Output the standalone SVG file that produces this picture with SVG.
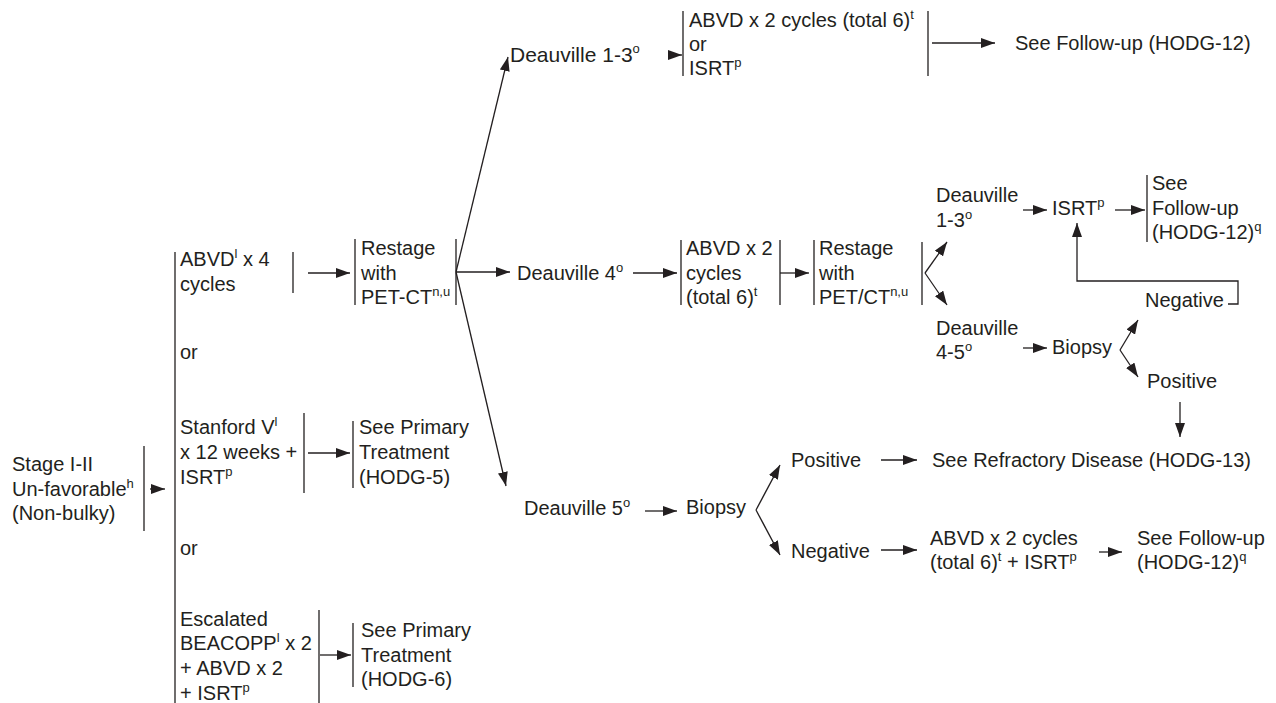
<svg xmlns="http://www.w3.org/2000/svg" width="1276" height="703" viewBox="0 0 1276 703">
<defs>
<style>
text{font-family:"Liberation Sans",Arial,sans-serif;font-size:20px;fill:#231f20}
.b{font-size:21px}
.s{font-size:13px}
.l{stroke:#231f20;stroke-width:1.3;fill:none}
.a{stroke:#231f20;stroke-width:1.3;fill:none;marker-end:url(#ah)}
</style>
<marker id="ah" markerUnits="userSpaceOnUse" markerWidth="15" markerHeight="10" refX="14" refY="5" orient="auto">
<path d="M0,0 L14,5 L0,10 z" fill="#231f20"/>
</marker>
</defs>
<rect width="1276" height="703" fill="#fff"/>

<g id="stage">
<text x="12" y="471">Stage I-II</text>
<text x="12" y="496">Un-favorable<tspan class="s" dy="-8">h</tspan></text>
<text x="12" y="520">(Non-bulky)</text>
<line class="l" x1="144" y1="446" x2="144" y2="531"/>
</g>

<g id="options">
<line class="l" x1="175" y1="252" x2="175" y2="703"/>
<text x="180" y="359">or</text>
<text x="180" y="555">or</text>
</g>

<g id="abvd4">
<text x="180" y="266">ABVD<tspan class="s" dy="-8">l</tspan><tspan dy="8"> x 4</tspan></text>
<text x="180" y="291">cycles</text>
<line class="l" x1="293" y1="252" x2="293" y2="293"/>
</g>

<g id="restage1">
<line class="l" x1="355" y1="239" x2="355" y2="305"/>
<text x="361" y="255">Restage</text>
<text x="361" y="280">with</text>
<text x="361" y="304">PET-CT<tspan class="s" dy="-8">n,u</tspan></text>
<line class="l" x1="456" y1="239" x2="456" y2="305"/>
</g>

<g id="stanford">
<text x="180" y="434">Stanford V<tspan class="s" dy="-8">l</tspan></text>
<text x="180" y="459">x 12 weeks +</text>
<text x="180" y="484">ISRT<tspan class="s" dy="-8">p</tspan></text>
<line class="l" x1="304" y1="413" x2="304" y2="493"/>
</g>

<g id="primary5">
<line class="l" x1="353" y1="421" x2="353" y2="488"/>
<text x="359" y="434">See Primary</text>
<text x="359" y="459">Treatment</text>
<text x="359" y="484">(HODG-5)</text>
</g>

<g id="beacopp">
<text x="180" y="626">Escalated</text>
<text x="180" y="650">BEACOPP<tspan class="s" dy="-8">l</tspan><tspan dy="8"> x 2</tspan></text>
<text x="180" y="675">+ ABVD x 2</text>
<text x="180" y="700">+ ISRT<tspan class="s" dy="-8">p</tspan></text>
<line class="l" x1="319" y1="610" x2="319" y2="703"/>
</g>

<g id="primary6">
<line class="l" x1="353" y1="623" x2="353" y2="687"/>
<text x="361" y="637">See Primary</text>
<text x="361" y="662">Treatment</text>
<text x="361" y="686">(HODG-6)</text>
</g>

<g id="d13top">
<text class="b" x="510" y="62">Deauville 1-3<tspan class="s" dy="-9">o</tspan></text>
</g>

<g id="abvd2top">
<line class="l" x1="683" y1="11" x2="683" y2="76"/>
<text x="689" y="27">ABVD x 2 cycles (total 6)<tspan class="s" dy="-8">t</tspan></text>
<text x="689" y="51">or</text>
<text x="689" y="75">ISRT<tspan class="s" dy="-8">p</tspan></text>
<line class="l" x1="928" y1="11" x2="928" y2="76"/>
</g>

<g id="fu12top">
<text x="1015" y="50">See Follow-up (HODG-12)</text>
</g>

<g id="d4">
<text x="517" y="280">Deauville 4<tspan class="s" dy="-8">o</tspan></text>
</g>

<g id="abvd2mid">
<line class="l" x1="681" y1="240" x2="681" y2="305"/>
<text x="686" y="255">ABVD x 2</text>
<text x="686" y="280">cycles</text>
<text x="686" y="304">(total 6)<tspan class="s" dy="-8">t</tspan></text>
<line class="l" x1="780" y1="240" x2="780" y2="305"/>
</g>

<g id="restage2">
<line class="l" x1="814" y1="240" x2="814" y2="305"/>
<text x="819" y="255">Restage</text>
<text x="819" y="280">with</text>
<text x="819" y="304">PET/CT<tspan class="s" dy="-8">n,u</tspan></text>
<line class="l" x1="922" y1="242" x2="922" y2="305"/>
</g>

<g id="d13right">
<text x="936" y="202">Deauville</text>
<text x="936" y="227">1-3<tspan class="s" dy="-8">o</tspan></text>
</g>

<g id="isrt">
<text x="1052" y="215">ISRT<tspan class="s" dy="-8">p</tspan></text>
</g>

<g id="fu12right">
<line class="l" x1="1147" y1="175" x2="1147" y2="242"/>
<text x="1152" y="190">See</text>
<text x="1152" y="215">Follow-up</text>
<text x="1152" y="239">(HODG-12)<tspan class="s" dy="-8">q</tspan></text>
</g>

<g id="neg1">
<text x="1145" y="307">Negative</text>
</g>

<g id="d45">
<text x="936" y="335">Deauville</text>
<text x="936" y="359">4-5<tspan class="s" dy="-8">o</tspan></text>
</g>

<g id="biopsy1">
<text x="1052" y="354">Biopsy</text>
</g>

<g id="pos1">
<text x="1147" y="388">Positive</text>
</g>

<g id="d5">
<text x="524" y="515">Deauville 5<tspan class="s" dy="-8">o</tspan></text>
</g>

<g id="biopsy2">
<text x="686" y="514">Biopsy</text>
</g>

<g id="pos2">
<text x="791" y="467">Positive</text>
</g>

<g id="refractory">
<text x="932" y="467">See Refractory Disease (HODG-13)</text>
</g>

<g id="neg2">
<text x="791" y="558">Negative</text>
</g>

<g id="abvd2bot">
<text x="930" y="545">ABVD x 2 cycles</text>
<text x="930" y="569">(total 6)<tspan class="s" dy="-8">t</tspan><tspan dy="8"> + ISRT</tspan><tspan class="s" dy="-8">p</tspan></text>
</g>

<g id="fu12bot">
<text x="1137" y="545">See Follow-up</text>
<text x="1137" y="569">(HODG-12)<tspan class="s" dy="-8">q</tspan></text>
</g>

<g id="connectors">
<line class="a" x1="150" y1="489" x2="165" y2="489"/>
<line class="a" x1="308" y1="273" x2="350" y2="273"/>
<line class="a" x1="308" y1="453" x2="350" y2="453"/>
<line class="a" x1="320" y1="655" x2="351" y2="655"/>
<line class="a" x1="456" y1="272" x2="508" y2="57"/>
<line class="a" x1="456" y1="272" x2="510" y2="272"/>
<line class="a" x1="456" y1="272" x2="506" y2="486"/>
<line class="a" x1="668" y1="55" x2="682" y2="55"/>
<line class="a" x1="932" y1="43" x2="995" y2="43"/>
<line class="a" x1="633" y1="273" x2="677" y2="273"/>
<line class="a" x1="780" y1="273" x2="809" y2="273"/>
<line class="a" x1="925" y1="273" x2="947" y2="242"/>
<line class="a" x1="925" y1="273" x2="947" y2="305"/>
<line class="a" x1="1023" y1="210" x2="1047" y2="210"/>
<line class="a" x1="1115" y1="210" x2="1145" y2="210"/>
<polyline class="a" points="1228,304 1238,304 1238,281 1077,281 1077,223"/>
<line class="a" x1="1023" y1="348" x2="1047" y2="348"/>
<line class="a" x1="1120" y1="350" x2="1138" y2="320"/>
<line class="a" x1="1120" y1="350" x2="1138" y2="377"/>
<line class="a" x1="1180" y1="402" x2="1180" y2="437"/>
<line class="a" x1="645" y1="511" x2="677" y2="511"/>
<line class="a" x1="756" y1="510" x2="780" y2="465"/>
<line class="a" x1="756" y1="510" x2="780" y2="555"/>
<line class="a" x1="881" y1="460" x2="917" y2="460"/>
<line class="a" x1="881" y1="550" x2="917" y2="550"/>
<line class="a" x1="1099" y1="552" x2="1122" y2="552"/>
</g>
</svg>
